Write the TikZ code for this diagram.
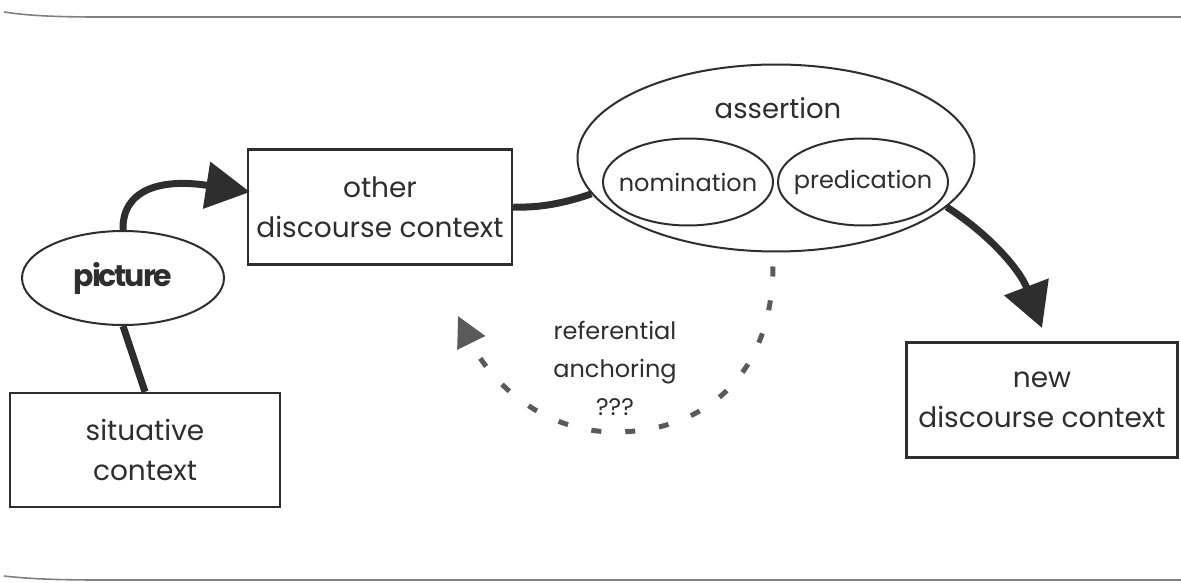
\documentclass[tikz,border=0pt]{standalone}
\usepackage{fontspec}
\setmainfont{Poppins}
\usetikzlibrary{arrows.meta,shapes.geometric}
\definecolor{ink}{HTML}{2E2E2E}
\definecolor{dashc}{HTML}{5A5A5A}
\tikzset{
  box/.style={draw=ink,line width=2.4pt,rectangle,inner sep=0pt,align=center,text=ink,font=\fontsize{28}{40}\selectfont},
  oval/.style={draw=ink,line width=2pt,ellipse,inner xsep=-30pt,inner ysep=-10pt,text=ink,font=\fontsize{24}{30}\selectfont},
  thickline/.style={draw=ink,line width=7pt},
  bigarrow/.style={draw=ink,line width=7pt,-{Triangle[length=44pt,width=46pt]}},
  dasharrow/.style={draw=dashc,line width=5pt,dash pattern=on 10pt off 24pt,-{Triangle[length=30pt,width=30pt,fill=dashc]}},
  rule/.style={draw=gray,line width=1.6pt},
  lbl/.style={text=ink,align=center,font=\fontsize{24}{38}\selectfont}
}
\begin{document}
\begin{tikzpicture}[x=1pt,y=-1pt]
\useasboundingbox (0,0) rectangle (1181,583);
% rules
\draw[rule] (4,12) .. controls (30,16) and (60,17) .. (100,17) -- (1181,17);
\draw[rule] (4,576) .. controls (30,579) and (60,580) .. (100,580) -- (1181,580);
% nodes
\node[box,minimum width=264pt,minimum height=115pt] (other) at (380,207) {other\\discourse context};
\node[box,minimum width=270pt,minimum height=114pt] (sit) at (145,450) {situative\\context};
\node[box,minimum width=271pt,minimum height=115pt] (new) at (1042,400) {new\\discourse context};
\node[oval,minimum width=202pt,minimum height=94pt,font=\fontsize{30}{34}\selectfont\bfseries] (pic) at (123,278) {\addfontfeatures{LetterSpace=-7}picture};
\node[oval,minimum width=397pt,minimum height=187pt] (ass) at (776,158) {};
\node[text=ink,font=\fontsize{27.5}{32}\selectfont] (asst) at (778,108) {assertion};
\node[oval,minimum width=170pt,minimum height=87pt] (nom) at (688,182) {nomination};
\node[oval,minimum width=170pt,minimum height=87pt] (pred) at (863,182) {predication};
\node[lbl] (ref) at (615,368) {referential\\anchoring\\???};
% connectors
\coordinate (tipA) at (250,192);
\draw[bigarrow] (pic.north) .. controls (122,190) and (160,178) .. (tipA);
\draw[thickline] (pic.south) -- (sit.north);
\draw[thickline] (other.east) .. controls (540,208) and (565,203) .. (ass.191);
\coordinate (tipB) at (1042,328);
\draw[bigarrow] (ass.-16) .. controls (990,235) and (1020,270) .. (tipB);
\coordinate (tipC) at (458,316);
\draw[dasharrow] (ass.south) ++(-3,14) .. controls (772,380) and (700,432) .. (615,432) .. controls (545,432) and (492,385) .. (tipC);
\end{tikzpicture}
\end{document}
